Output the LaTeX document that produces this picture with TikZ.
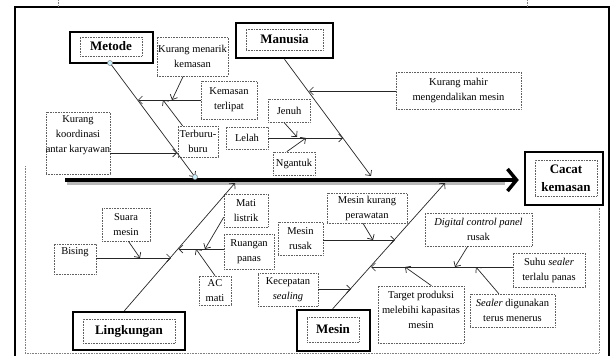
\documentclass[tikz,border=0pt]{standalone}
\usepackage{fontspec}
\setmainfont{Liberation Serif}
\usetikzlibrary{arrows.meta,calc}
\begin{document}
\begin{tikzpicture}[x=1pt,y=-1pt,
 dbox/.style={draw=gray!75!black, densely dotted, line width=0.6pt, inner sep=0pt, align=center, font=\fontsize{10.5}{15}\selectfont},
 tbox/.style={draw=black, line width=2.5pt, inner sep=0pt},
 hbox/.style={draw=gray!75!black, densely dotted, line width=0.6pt, inner sep=0pt, align=center, font=\fontsize{13}{18}\selectfont\bfseries},
 txt/.style={inner sep=0pt, align=center, font=\fontsize{10.5}{15}\selectfont},
 arr/.style={draw=black!85, line width=0.7pt, -{Straight Barb[length=4pt,width=8pt]}},
 dot/.style={circle, draw=gray, fill=cyan!20, inner sep=0pt, minimum size=5pt, line width=0.5pt}
]
\useasboundingbox (0,0) rectangle (611,356);
% frame
\draw[line width=2pt] (14.5,356) -- (14.5,7) -- (608.5,7) -- (608.5,356);
\draw[gray, densely dotted, line width=0.6pt] (25,166) -- (25,353) -- (599,353) -- (599,208);
\draw[gray, densely dotted, line width=0.6pt] (58,0) -- (58,7);
\draw[gray, densely dotted, line width=0.6pt] (527,0) -- (527,7);

% head boxes
\node[tbox, minimum width=83pt, minimum height=31pt] (metO) at (111.5,47.5) {};
\node[hbox, minimum width=62pt, minimum height=19pt] (metode) at (111,46.5) {Metode};
\node[tbox, minimum width=97pt, minimum height=35pt] (manO) at (284.5,40.5) {};
\node[hbox, minimum width=77pt, minimum height=21pt] (manusia) at (284.5,39.5) {Manusia};
\node[tbox, minimum width=112pt, minimum height=38pt] (lingO) at (129,331) {};
\node[hbox, minimum width=92pt, minimum height=24pt] (lingkungan) at (129,331) {Lingkungan};
\node[tbox, minimum width=73pt, minimum height=41pt] (mesO) at (333.5,330.5) {};
\node[hbox, minimum width=52pt, minimum height=25pt] (mesin) at (333,329.5) {Mesin};
\node[tbox, minimum width=78pt, minimum height=53pt] (cacatO) at (564,178.5) {};
\node[hbox, minimum width=62pt, minimum height=36pt] (cacat) at (566,178) {Cacat\\kemasan};

% cause boxes
\node[dbox, minimum width=71pt, minimum height=39pt] (kmk) at (192.5,56.5) {Kurang menarik\\kemasan};
\node[dbox, minimum width=56pt, minimum height=38pt] (kt) at (229,100) {Kemasan\\terlipat};
\node[dbox, minimum width=40pt, minimum height=31pt] (tb) at (198,141.5) {Terburu-\\buru};
\node[dbox, minimum width=64pt, minimum height=62pt] (kkbox) at (78,143) {};
\node[txt] (kk) at (78,135) {Kurang\\koordinasi\\antar karyawan};
\node[dbox, minimum width=125pt, minimum height=37pt] (kmm) at (458.5,90.5) {Kurang mahir\\mengendalikan mesin};
\node[dbox, minimum width=42pt, minimum height=23pt] (jenuh) at (289,110.5) {Jenuh};
\node[dbox, minimum width=42pt, minimum height=22pt] (lelah) at (247,138) {Lelah};
\node[dbox, minimum width=42pt, minimum height=23pt] (ngantuk) at (294,163.5) {Ngantuk};
\node[dbox, minimum width=48pt, minimum height=33pt] (suara) at (126,224.5) {Suara\\mesin};
\node[dbox, minimum width=42pt, minimum height=30pt] (bisingbox) at (75,259) {};
\node[txt] (bising) at (75,252) {Bising};
\node[dbox, minimum width=44pt, minimum height=33pt] (mati) at (246,210.5) {Mati\\listrik};
\node[dbox, minimum width=50pt, minimum height=35pt] (ruangan) at (249,251.5) {Ruangan\\panas};
\node[dbox, minimum width=32pt, minimum height=29pt] (ac) at (215,290.5) {AC\\mati};
\node[dbox, minimum width=80pt, minimum height=30pt] (mkp) at (367,208) {Mesin kurang\\perawatan};
\node[dbox, minimum width=45pt, minimum height=33pt] (mr) at (300.5,238.5) {Mesin\\rusak};
\node[dbox, minimum width=60pt, minimum height=33pt] (ks) at (288,289.5) {Kecepatan\\\textit{sealing}};
\node[dbox, minimum width=107pt, minimum height=33pt] (dcp) at (478.5,229.5) {\textit{Digital control panel}\\rusak};
\node[dbox, minimum width=72pt, minimum height=34pt] (suhu) at (549,270) {Suhu \textit{sealer}\\terlalu panas};
\node[dbox, minimum width=86pt, minimum height=57pt] (targetbox) at (421,314.5) {};
\node[txt] (target) at (421,310) {Target produksi\\melebihi kapasitas\\mesin};
\node[dbox, minimum width=85pt, minimum height=33pt] (sealer) at (512.5,310.5) {\textit{Sealer} digunakan\\terus menerus};

% spine
\coordinate (s1) at (65,180);
\draw[gray!55, line width=4pt] (67,183) -- (505,183);
\draw[line width=4.5pt, -{Straight Barb[length=9pt,width=22pt,line width=3.5pt]}, shorten >=5pt] (s1) -- (s1 -| cacatO.west);

% Metode bone
\coordinate (m1) at (110,63);
\coordinate (m2) at (195,177);
\draw[arr] (m1) -- (m2);
\coordinate (mj1) at (138,100);
\coordinate (mj2) at (172,100);
\coordinate (mj3) at (163,100);
\coordinate (mj4) at (177,153);
\draw[arr] (kt.west) -- (mj1);
\draw[arr] ($(kmk.south west)!.37!(kmk.south east)$) -- (mj2);
\draw[arr] ($(tb.north west)!.12!(tb.north east)$) -- (mj3);
\draw[arr] (kkbox.east |- mj4) -- (mj4);
\node[dot] (d1) at (m1) {};
\node[dot] (d2) at (m2) {};

% Manusia bone
\coordinate (h2) at (371,176);
\draw[arr] (manO.south) -- (h2);
\coordinate (hj1) at (309,91);
\coordinate (hj2) at (343,138);
\coordinate (hj3) at (297,137);
\coordinate (hj4) at (306,138);
\draw[arr] (kmm.west |- hj1) -- (hj1);
\draw[arr] (lelah.east) -- (hj2);
\draw[arr] ($(jenuh.south west)!.38!(jenuh.south east)$) -- (hj3);
\draw[arr] ($(ngantuk.north west)!.33!(ngantuk.north east)$) -- (hj4);

% Lingkungan bone
\coordinate (l2) at (235,183);
\draw[arr] ($(lingO.north west)!.46!(lingO.north east)$) -- (l2);
\coordinate (lj1) at (171,258);
\coordinate (lj2) at (178.5,249);
\coordinate (lj3) at (140,258);
\coordinate (lj4) at (205,249);
\coordinate (lj5) at (196,249);
\draw[arr] (bisingbox.east |- lj1) -- (lj1);
\draw[arr] ($(suara.south west)!.55!(suara.south east)$) -- (lj3);
\draw[arr] (ruangan.west |- lj2) -- (lj2);
\draw[arr] ($(mati.north west)!.7!(mati.south west)$) -- (lj4);
\draw[arr] (ac.north) -- (lj5);

% Mesin bone
\coordinate (e2) at (445,183);
\draw[arr] ($(mesO.north west)!.49!(mesO.north east)$) -- (e2);
\coordinate (ej1) at (395,240);
\coordinate (ej2) at (351,289);
\coordinate (ej3) at (371,267);
\coordinate (ej4) at (373,240);
\coordinate (ej5) at (455,267);
\coordinate (ej6) at (405,267);
\coordinate (ej7) at (476,267);
\draw[arr] (mr.east |- ej1) -- (ej1);
\draw[arr] (ks.east |- ej2) -- (ej2);
\draw[arr] (suhu.west |- ej3) -- (ej3);
\draw[arr] ($(mkp.south west)!.45!(mkp.south east)$) -- (ej4);
\draw[arr] ($(dcp.south west)!.4!(dcp.south east)$) -- (ej5);
\draw[arr] ($(targetbox.north west)!.62!(targetbox.north east)$) -- (ej6);
\draw[arr] ($(sealer.north west)!.34!(sealer.north east)$) -- (ej7);
\end{tikzpicture}
\end{document}
